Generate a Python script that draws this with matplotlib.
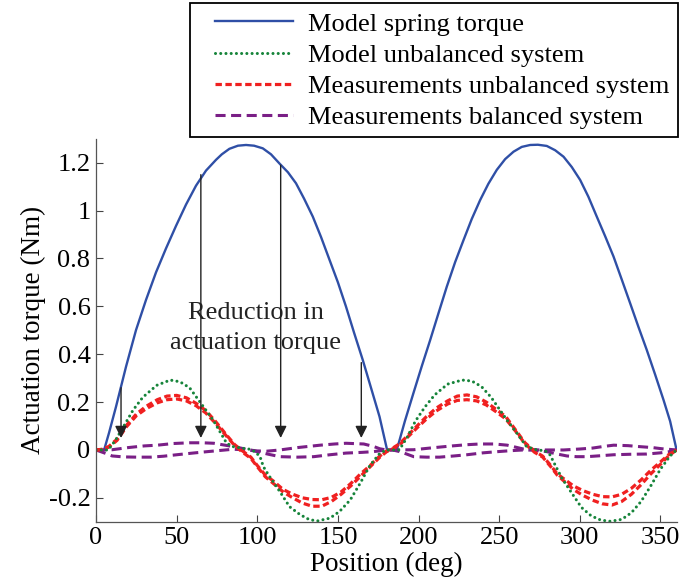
import matplotlib
matplotlib.use('Agg')
from matplotlib import pyplot as plt
from matplotlib.patches import Rectangle
from matplotlib.ticker import FuncFormatter

plt.rcParams['font.family'] = ['Liberation Serif', 'DejaVu Serif']
plt.rcParams['axes.unicode_minus'] = False

# model spring torque
spring_x = [0, 5, 8, 12.4, 18.6, 24.8, 31, 37.2, 43.4, 49.6, 55.8, 62, 68.2, 74.4, 78, 82.7, 88, 93, 98, 103.4,
            108.5, 113.7, 119, 124, 129, 134.4, 139.5, 144.8, 150, 155, 160, 165.4, 170.5, 175.8, 180.5,
            186.5, 191.5, 196.8, 202, 207.2, 212.3, 217.5, 222.7, 227.9, 233, 238.2, 243.3, 248.5, 253.7,
            258.9, 264, 269.2, 274, 279.5, 284.7, 289.9, 295, 300.2, 305.3, 310.5, 315.7, 320.9, 326, 331.2,
            336.3, 341.5, 346.7, 351.9, 356, 360]
spring_y = [0, 0, 0.07, 0.181, 0.348, 0.501, 0.627, 0.742, 0.842, 0.936, 1.025, 1.104, 1.167, 1.212, 1.235,
            1.258, 1.271, 1.274, 1.271, 1.26, 1.235, 1.197, 1.16, 1.114, 1.05, 0.975, 0.89, 0.794, 0.7, 0.599,
            0.49, 0.376, 0.26, 0.139, 0,
            0, 0.12, 0.237, 0.35, 0.459, 0.57, 0.682, 0.785, 0.877, 0.965, 1.044, 1.112, 1.17, 1.215,
            1.246, 1.266, 1.274, 1.275, 1.27, 1.252, 1.225, 1.182, 1.128, 1.058, 0.975, 0.893, 0.808, 0.712,
            0.613, 0.515, 0.418, 0.315, 0.209, 0.12, 0]

# model unbalanced system
model_x = [0, 7.5, 12, 17, 23, 29, 37.6, 46, 52, 58, 64.5, 72.6, 78, 81, 85, 90, 95.5, 98.6, 101.7, 103.8,
           106.9, 114, 120, 126.5, 132, 137, 145, 151, 157.6, 163.8, 170, 176, 180, 188,
           192.7, 198, 204, 210, 218, 227, 233, 239, 245, 254.8, 261, 267, 273.4, 278.5, 281.6, 284.7,
           288.9, 295, 301, 307, 313, 319, 326, 332, 338, 344, 350, 356, 360]
model_y = [0, 0, 0.04, 0.097, 0.167, 0.22, 0.27, 0.292, 0.285, 0.26, 0.2, 0.125, 0.063, 0.028, 0.014, 0.008,
           0.003, -0.007, -0.028, -0.07, -0.104, -0.174, -0.237, -0.27, -0.29, -0.297, -0.285, -0.257, -0.209,
           -0.139, -0.063, -0.014, 0, 0,
           0.05, 0.12, 0.18, 0.23, 0.275, 0.292, 0.288, 0.265, 0.22, 0.125, 0.07, 0.014, 0, -0.003, -0.021,
           -0.063, -0.118, -0.18, -0.24, -0.275, -0.293, -0.298, -0.29, -0.262, -0.215, -0.15, -0.08, -0.025, 0]

# measurements unbalanced system (two passes)
meas_x = [0, 4, 8, 13, 19, 25, 31, 38, 44, 50, 56, 62, 68, 74, 80, 86, 91, 96, 100, 105, 110, 116, 122, 128,
          134, 140, 146, 152, 158, 164, 170, 176, 180, 184, 188, 193, 199, 205, 211, 218, 224, 230, 236, 242,
          248, 254, 260, 266, 272, 277, 282, 286, 291, 296, 302, 308, 314, 320, 326, 332, 338, 344, 350, 355, 360]
meas_a = [0, 0.003, 0.015, 0.045, 0.104, 0.15, 0.182, 0.21, 0.225, 0.228, 0.218, 0.195, 0.165, 0.12, 0.07,
          0.022, -0.005, -0.03, -0.065, -0.105, -0.13, -0.165, -0.185, -0.2, -0.207, -0.208, -0.198, -0.175,
          -0.14, -0.1, -0.065, -0.025, -0.005, 0.008, 0.025, 0.058, 0.1, 0.14, 0.175, 0.205, 0.225, 0.23, 0.222,
          0.2, 0.17, 0.14, 0.085, 0.03, -0.005, -0.026, -0.065, -0.1, -0.125, -0.15, -0.17, -0.185, -0.195,
          -0.196, -0.185, -0.16, -0.125, -0.085, -0.05, -0.02, 0]
meas_b = [0, 0.002, 0.012, 0.04, 0.098, 0.143, 0.172, 0.197, 0.21, 0.213, 0.205, 0.185, 0.155, 0.112, 0.065,
          0.018, -0.01, -0.035, -0.07, -0.112, -0.14, -0.175, -0.2, -0.222, -0.235, -0.235, -0.215, -0.185,
          -0.15, -0.11, -0.07, -0.03, -0.008, 0.005, 0.02, 0.052, 0.092, 0.13, 0.163, 0.192, 0.207, 0.21, 0.205,
          0.188, 0.16, 0.13, 0.08, 0.026, -0.01, -0.03, -0.07, -0.105, -0.135, -0.165, -0.19, -0.21, -0.225,
          -0.23, -0.215, -0.185, -0.145, -0.1, -0.06, -0.025, 0]

# measurements balanced system (two passes)
bal_a_x = [0, 10, 20, 30, 38, 48, 58, 66, 73, 80, 87, 95, 100, 106, 114, 125, 139, 148, 155, 166, 172, 176, 180,
           186, 197, 210, 221, 230, 238, 247, 255, 265, 275, 290, 300, 308, 315, 321, 330, 337, 345, 351, 360]
bal_a_y = [0, 0.001, 0.01, 0.017, 0.02, 0.027, 0.03, 0.03, 0.028, 0.02, 0.012, 0, -0.004, -0.005, 0, 0.01,
           0.02, 0.025, 0.028, 0.025, 0.015, 0.005, 0, 0, 0.001, 0.01, 0.017, 0.022, 0.025, 0.025, 0.02, 0.004,
           0, 0, 0.004, 0.008, 0.015, 0.02, 0.018, 0.014, 0.01, 0.005, 0]
bal_b_x = [0, 5, 10, 17, 25, 34, 42, 50, 60, 69, 77, 85, 95, 100, 107, 114, 125, 135, 145, 155, 165, 172, 180,
           184, 189, 197, 205, 213, 222, 230, 240, 249, 257, 265, 272, 279.5, 286, 292, 298, 304.5, 313, 321,
           331, 341.5, 350, 358, 360]
bal_b_y = [0, -0.012, -0.025, -0.029, -0.03, -0.03, -0.026, -0.02, -0.013, -0.007, -0.002, 0.003, 0, -0.007,
           -0.018, -0.028, -0.03, -0.028, -0.02, -0.013, -0.01, -0.007, 0, 0, -0.008, -0.028, -0.03, -0.03,
           -0.025, -0.02, -0.012, -0.007, -0.003, 0, -0.001, -0.007, -0.017, -0.025, -0.028, -0.028, -0.024,
           -0.02, -0.018, -0.017, -0.012, -0.005, 0]

# arrows showing the reduction
arrow_x = [15.5, 65, 114.5, 164.5]
arrow_top = [0.26, 1.15, 1.19, 0.365]
arrow_tip = [0.05, 0.05, 0.05, 0.05]

fig = plt.figure(figsize=(6.83, 5.83), dpi=100)
ax = fig.add_axes([0.1406, 0.105, 0.85, 0.657])

ax.plot(spring_x, spring_y, color='#2f4fa6', lw=1.7, label='Model spring torque')
ax.plot(bal_a_x, bal_a_y, color='#7a1f86', lw=2.2, dashes=(3.3, 1.8), label='Measurements balanced system')
ax.plot(bal_b_x, bal_b_y, color='#7a1f86', lw=2.2, dashes=(3.3, 1.8))
ax.plot(meas_x, meas_a, color='#f02020', lw=2.3, dashes=(2.0, 1.1), label='Measurements unbalanced system')
ax.plot(meas_x, meas_b, color='#f02020', lw=2.3, dashes=(2.0, 1.1))
ax.plot(model_x, model_y, color='#16843a', lw=2.2, linestyle=(0, (0.01, 1.7)), dash_capstyle='round',
        label='Model unbalanced system')

for xa, yt, yb in zip(arrow_x, arrow_top, arrow_tip):
    ax.annotate('', xy=(xa, yb), xytext=(xa, yt),
                arrowprops=dict(arrowstyle='-|>', color='#222222', lw=1.0,
                                mutation_scale=18, shrinkA=0, shrinkB=0))

ax.text(99, 0.51, 'Reduction in\nactuation torque', ha='center', va='center',
        fontsize=19, linespacing=1.5, color='#222222')

ax.set_xlim(0, 360)
ax.set_ylim(-0.3, 1.3)
ax.set_xticks([0, 50, 100, 150, 200, 250, 300, 350])
ax.set_yticks([-0.2, 0, 0.2, 0.4, 0.6, 0.8, 1.0, 1.2])
ax.yaxis.set_major_formatter(FuncFormatter(lambda v, p: '%g' % round(v, 2)))
ax.tick_params(direction='in', length=5, width=0.8, labelsize=19, color='#444444', pad=4)
ax.spines['top'].set_visible(False)
ax.spines['right'].set_visible(False)
for s in ['left', 'bottom']:
    ax.spines[s].set_color('#555555')
    ax.spines[s].set_linewidth(0.9)

ax.set_xlabel('Position (deg)', fontsize=19.5, labelpad=2)
ax.set_ylabel('Actuation torque (Nm)', fontsize=19.5, labelpad=2)

handles, labels = ax.get_legend_handles_labels()
order = ['Model spring torque', 'Model unbalanced system', 'Measurements unbalanced system',
         'Measurements balanced system']
hs = [handles[labels.index(o)] for o in order]
leg = fig.legend(hs, order, loc='upper right', bbox_to_anchor=(0.993, 0.995), fontsize=19,
                 frameon=False, handlelength=2.95, handletextpad=0.57, labelspacing=0.29,
                 borderpad=0.35, borderaxespad=0)

# legend box is wider on the left than the default frame
fig.patches.append(Rectangle((190 / 683, 1 - 137 / 583), 488 / 683, 134 / 583, transform=fig.transFigure,
                             fill=False, edgecolor='black', linewidth=1.3))

fig.savefig('out.png', dpi=100)
